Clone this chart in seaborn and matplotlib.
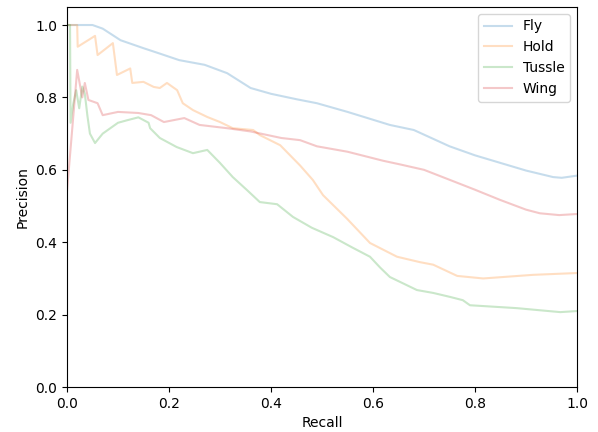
import matplotlib
matplotlib.use("Agg")
import matplotlib.pyplot as plt
import seaborn as sns
import pandas as pd
from matplotlib.lines import Line2D

classes = ["Fly", "Hold", "Tussle", "Wing"]

fly_recall = [0.0, 0.05, 0.07, 0.105, 0.15, 0.18, 0.22, 0.27, 0.314, 0.36, 0.4, 0.45, 0.49,
              0.55, 0.633, 0.68, 0.75, 0.8, 0.85, 0.9, 0.953, 0.97, 1.0]
fly_precision = [1.0, 1.0, 0.99, 0.958, 0.936, 0.922, 0.903, 0.89, 0.867, 0.826, 0.81, 0.795, 0.784,
                 0.76, 0.724, 0.71, 0.665, 0.64, 0.619, 0.598, 0.58, 0.578, 0.584]

hold_recall = [0.0, 0.02, 0.021, 0.055, 0.06, 0.09, 0.098, 0.124, 0.128, 0.15, 0.17, 0.182, 0.196,
               0.216, 0.227, 0.247, 0.275, 0.3, 0.325, 0.365, 0.378, 0.418, 0.457, 0.482, 0.502,
               0.549, 0.594, 0.647, 0.692, 0.718, 0.765, 0.816, 0.914, 1.0]
hold_precision = [1.0, 1.0, 0.94, 0.97, 0.917, 0.95, 0.862, 0.88, 0.84, 0.843, 0.829, 0.826, 0.84,
                  0.82, 0.784, 0.765, 0.746, 0.732, 0.715, 0.71, 0.696, 0.668, 0.612, 0.572, 0.53,
                  0.465, 0.398, 0.36, 0.345, 0.338, 0.307, 0.30, 0.31, 0.315]

tussle_recall = [0.0, 0.006, 0.007, 0.012, 0.018, 0.024, 0.03, 0.035, 0.04, 0.045, 0.055, 0.07,
                 0.085, 0.1, 0.118, 0.14, 0.16, 0.163, 0.182, 0.215, 0.247, 0.275, 0.3, 0.325,
                 0.353, 0.378, 0.412, 0.443, 0.48, 0.522, 0.56, 0.594, 0.614, 0.633, 0.686, 0.718,
                 0.751, 0.776, 0.79, 0.882, 0.967, 1.0]
tussle_precision = [1.0, 1.0, 0.73, 0.78, 0.82, 0.77, 0.83, 0.81, 0.75, 0.70, 0.674, 0.70,
                    0.715, 0.73, 0.737, 0.745, 0.73, 0.715, 0.688, 0.663, 0.646, 0.655, 0.619, 0.58,
                    0.544, 0.511, 0.505, 0.47, 0.44, 0.414, 0.385, 0.36, 0.33, 0.304, 0.268, 0.26,
                    0.249, 0.24, 0.226, 0.218, 0.207, 0.21]

wing_recall = [0.0, 0.02, 0.03, 0.035, 0.042, 0.06, 0.07, 0.1, 0.14, 0.165, 0.19, 0.23, 0.26,
               0.314, 0.36, 0.42, 0.457, 0.49, 0.55, 0.62, 0.653, 0.7, 0.751, 0.8, 0.849, 0.9,
               0.927, 0.965, 1.0]
wing_precision = [0.54, 0.876, 0.80, 0.84, 0.793, 0.784, 0.751, 0.76, 0.757, 0.751, 0.732, 0.743, 0.724,
                  0.715, 0.706, 0.688, 0.682, 0.665, 0.65, 0.625, 0.615, 0.6, 0.572, 0.545, 0.517, 0.49,
                  0.48, 0.475, 0.478]

recalls = [fly_recall, hold_recall, tussle_recall, wing_recall]
precisions = [fly_precision, hold_precision, tussle_precision, wing_precision]

rows = []
for name, rr, pp in zip(classes, recalls, precisions):
    for r, p in zip(rr, pp):
        rows.append({"Class": name, "Recall": r, "Precision": p})
df = pd.DataFrame(rows)

fig = plt.figure(figsize=(5.98, 4.32), dpi=100)
ax = fig.add_axes([0.112, 0.104, 0.853, 0.880])

palette = sns.color_palette("tab10", 4)
sns.lineplot(data=df, x="Recall", y="Precision", hue="Class", hue_order=classes,
             palette=palette, estimator=None, sort=False, units="Class",
             alpha=0.25, linewidth=1.5, ax=ax, legend=False)

handles = [Line2D([0], [0], color=c, alpha=0.25, linewidth=1.5) for c in palette]
ax.legend(handles, classes, loc="upper right")

ax.set_xlim(0, 1)
ax.set_ylim(0, 1.05)
ax.set_xlabel("Recall")
ax.set_ylabel("Precision")

fig.savefig("out.png", dpi=100)
